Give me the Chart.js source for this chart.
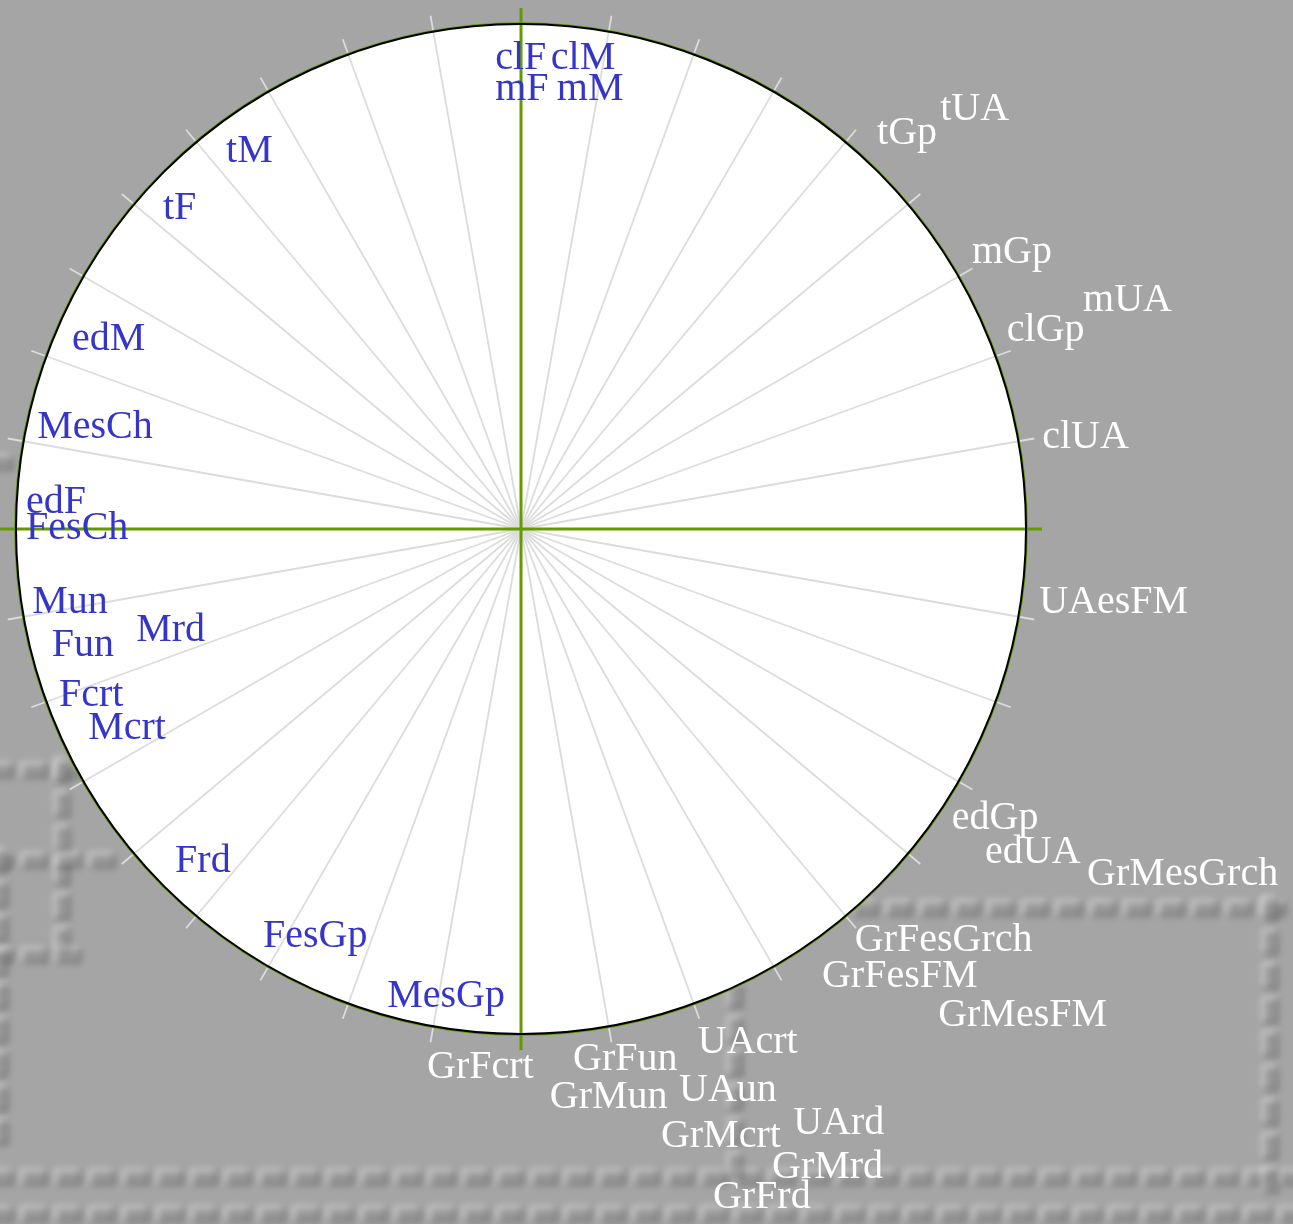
<!DOCTYPE html>
<html>
<head>
<meta charset="utf-8">
<script src="https://cdn.jsdelivr.net/npm/chart.js@4.4.0/dist/chart.umd.min.js"></script>
<style>
    html, body { margin: 0; padding: 0; background: #a5a5a5; }
    #wrap { width: 1293px; height: 1224px; }
</style>
</head>
<body>
<div id="wrap"><canvas id="circleChart" width="1293" height="1224"></canvas></div>
<script>
// Variables inside the circle (blue) - x/y coordinates of each label
const innerLabels = ['clF', 'clM', 'mF', 'mM', 'tM', 'tF', 'edM', 'MesCh', 'edF', 'FesCh',
    'Mun', 'Fun', 'Mrd', 'Fcrt', 'Mcrt', 'Frd', 'FesGp', 'MesGp'];
const innerX = [-0.051, 0.059, -0.051, 0.071, -0.584, -0.709, -0.889, -0.958, -0.980, -0.980,
    -0.968, -0.929, -0.762, -0.915, -0.857, -0.685, -0.511, -0.265];
const innerY = [0.911, 0.911, 0.849, 0.849, 0.727, 0.614, 0.354, 0.180, 0.032, -0.020,
    -0.166, -0.252, -0.222, -0.351, -0.416, -0.679, -0.828, -0.947];

// Variables outside the circle (white)
const outerLabels = ['tGp', 'tUA', 'mGp', 'mUA', 'clGp', 'clUA', 'UAesFM', 'edGp', 'edUA',
    'GrMesGrch', 'GrFesGrch', 'GrFesFM', 'GrMesFM', 'GrFcrt', 'GrFun', 'GrMun', 'UAcrt',
    'UAun', 'GrMcrt', 'UArd', 'GrMrd', 'GrFrd'];
const outerX = [0.705, 0.830, 0.893, 1.113, 0.962, 1.032, 1.026, 0.853, 0.919,
    1.121, 0.661, 0.596, 0.826, -0.186, 0.103, 0.057, 0.350,
    0.313, 0.277, 0.539, 0.497, 0.380];
const outerY = [0.762, 0.810, 0.527, 0.432, 0.372, 0.160, -0.166, -0.594, -0.661,
    -0.705, -0.836, -0.907, -0.984, -1.087, -1.071, -1.147, -1.038,
    -1.133, -1.224, -1.198, -1.285, -1.345];

// Spokes every 10 degrees
const spokeAngles = [];
for (let a = 0; a < 360; a += 10) spokeAngles.push(a);

const toPoints = (xs, ys) => xs.map((x, i) => ({ x: x, y: ys[i] }));

// embossed dotted pattern on the grey background
function dotRow(ctx, x0, y0, x1, y1) {
    const horiz = y0 === y1;
    const len = horiz ? x1 - x0 : y1 - y0;
    for (let d = 0; d <= len; d += 34) {
        const x = horiz ? x0 + d : x0;
        const y = horiz ? y0 : y0 + d;
        const w = horiz ? 24 : 14;
        const h = horiz ? 14 : 24;
        ctx.fillStyle = 'rgba(255,255,255,0.35)';
        ctx.fillRect(x - w / 2 - 2, y - h / 2 - 2, w, h);
        ctx.fillStyle = 'rgba(0,0,0,0.22)';
        ctx.fillRect(x - w / 2 + 2, y - h / 2 + 2, w, h);
    }
}

const backgroundPlugin = {
    id: 'backgroundPattern',
    beforeDraw(chart) {
        const ctx = chart.ctx;
        ctx.save();
        ctx.filter = 'blur(3px)';
        dotRow(ctx, 0, 770, 75, 770);
        dotRow(ctx, 62, 770, 62, 960);
        dotRow(ctx, 0, 860, 130, 860);
        dotRow(ctx, 0, 955, 75, 955);
        dotRow(ctx, 0, 860, 0, 1140);
        dotRow(ctx, 0, 1177, 1293, 1177);
        dotRow(ctx, 0, 1214, 1293, 1214);
        dotRow(ctx, 865, 908, 1275, 908);
        dotRow(ctx, 1270, 908, 1270, 1180);
        dotRow(ctx, 735, 995, 735, 1177);
        dotRow(ctx, 0, 462, 0, 462);
        ctx.restore();
    }
};

const circlePlugin = {
    id: 'correlationCircle',
    beforeDatasetsDraw(chart) {
        const ctx = chart.ctx;
        const xs = chart.scales.x;
        const ys = chart.scales.y;
        const cx = xs.getPixelForValue(0);
        const cy = ys.getPixelForValue(0);
        const r = xs.getPixelForValue(1) - cx;
        const ext = 1.032;

        ctx.save();
        // white disc
        ctx.beginPath();
        ctx.arc(cx, cy, r, 0, Math.PI * 2);
        ctx.fillStyle = '#ffffff';
        ctx.fill();

        // spokes
        ctx.strokeStyle = '#dcdcdc';
        ctx.lineWidth = 1.8;
        spokeAngles.forEach(a => {
            const rad = a * Math.PI / 180;
            ctx.beginPath();
            ctx.moveTo(cx, cy);
            ctx.lineTo(xs.getPixelForValue(ext * Math.cos(rad)), ys.getPixelForValue(ext * Math.sin(rad)));
            ctx.stroke();
        });

        // green axes
        ctx.strokeStyle = '#669900';
        ctx.lineWidth = 3;
        ctx.beginPath();
        ctx.moveTo(xs.getPixelForValue(-ext), cy);
        ctx.lineTo(xs.getPixelForValue(ext), cy);
        ctx.moveTo(cx, ys.getPixelForValue(ext));
        ctx.lineTo(cx, ys.getPixelForValue(-ext));
        ctx.stroke();

        // circle outline
        ctx.beginPath();
        ctx.arc(cx, cy, r + 0.8, 0, Math.PI * 2);
        ctx.strokeStyle = '#669900';
        ctx.lineWidth = 2;
        ctx.stroke();
        ctx.beginPath();
        ctx.arc(cx, cy, r, 0, Math.PI * 2);
        ctx.strokeStyle = '#000000';
        ctx.lineWidth = 2;
        ctx.stroke();
        ctx.restore();
    },
    afterDatasetsDraw(chart) {
        const ctx = chart.ctx;
        ctx.save();
        ctx.font = '40px "Liberation Serif", "Times New Roman", serif';
        ctx.textAlign = 'left';
        ctx.textBaseline = 'alphabetic';
        chart.data.datasets.forEach((ds, di) => {
            const meta = chart.getDatasetMeta(di);
            ctx.fillStyle = ds.textColor;
            meta.data.forEach((pt, i) => {
                ctx.fillText(ds.names[i], pt.x, pt.y);
            });
        });
        ctx.restore();
    }
};

new Chart(document.getElementById('circleChart'), {
    type: 'scatter',
    data: {
        datasets: [
            {
                label: 'inner',
                names: innerLabels,
                textColor: '#3535c9',
                data: toPoints(innerX, innerY),
                pointRadius: 0
            },
            {
                label: 'outer',
                names: outerLabels,
                textColor: '#ffffff',
                data: toPoints(outerX, outerY),
                pointRadius: 0
            }
        ]
    },
    options: {
        responsive: false,
        animation: false,
        layout: { padding: 0 },
        plugins: {
            legend: { display: false },
            tooltip: { enabled: false }
        },
        scales: {
            x: { display: false, min: -1.0317, max: 1.5287 },
            y: { display: false, min: -1.3762, max: 1.0475 }
        }
    },
    plugins: [backgroundPlugin, circlePlugin]
});
</script>
</body>
</html>
